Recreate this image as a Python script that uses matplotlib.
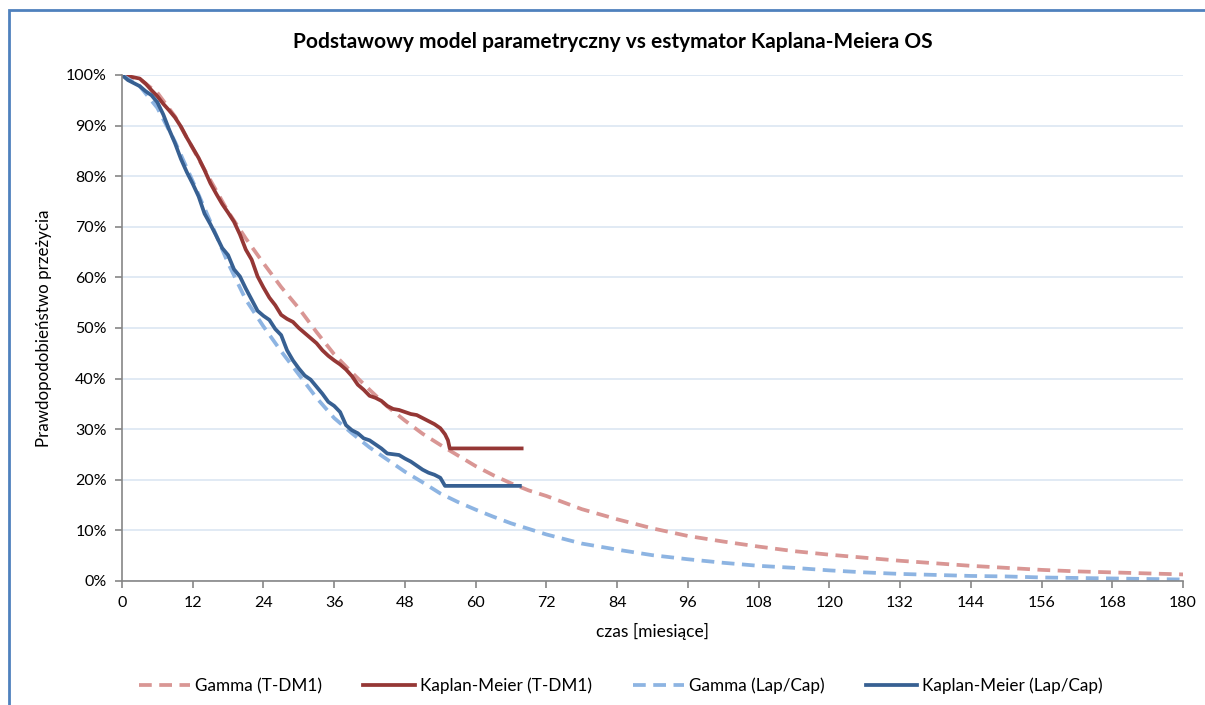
import matplotlib
matplotlib.use('Agg')
import matplotlib.pyplot as plt
from matplotlib.patches import Rectangle
from matplotlib.ticker import FuncFormatter

plt.rcParams['font.family'] = ['Lato', 'DejaVu Sans']

# ---------- dane ----------
# krzywe parametryczne (Gamma), miesiące / przeżycie w %
gamma_t = [0, 3, 6, 9, 12, 15, 18, 21, 24, 27, 30, 33, 36, 39, 42, 45, 48, 51, 54, 57,
           60, 63, 66, 69, 72, 78, 84, 90, 96, 102, 108, 114, 120, 126, 132, 138, 144,
           150, 156, 162, 168, 174, 180]
gamma_tdm1 = [100, 99.2, 96.5, 91.8, 85.5, 79.2, 73.0, 67.7, 62.8, 58.1, 53.9, 49.2, 44.8,
              41.2, 37.8, 34.5, 31.7, 29.1, 26.9, 24.8, 22.7, 20.9, 19.3, 17.9, 16.8, 14.2,
              12.2, 10.4, 8.9, 7.8, 6.8, 5.9, 5.2, 4.6, 4.0, 3.5, 3.0, 2.6, 2.2, 1.9, 1.7,
              1.5, 1.3]
gamma_lapcap = [100, 97.8, 93.5, 86.8, 79.0, 71.0, 62.8, 55.6, 50.3, 45.4, 40.8, 36.2, 32.2,
                29.2, 26.4, 24.0, 21.6, 19.5, 17.3, 15.6, 14.1, 12.7, 11.4, 10.3, 9.2, 7.4,
                6.2, 5.1, 4.3, 3.6, 3.0, 2.6, 2.1, 1.7, 1.4, 1.2, 1.0, 0.9, 0.7, 0.6, 0.5,
                0.4, 0.3]

# estymator Kaplana-Meiera
km_tdm1_t = [0, 3, 4, 5, 6, 7, 8, 9, 10, 11, 12, 13, 14, 15, 16, 17, 18, 19, 20, 21, 22,
             23, 24, 25, 26, 27, 28, 29, 30, 31, 32, 33, 34, 35, 36, 37, 38, 39, 40, 41,
             42, 43, 44, 45, 46, 47, 48, 49, 50, 51, 52, 53, 54, 54.8, 55.3, 55.6, 67.8]
km_tdm1 = [100, 99.3, 98.3, 97.0, 95.8, 94.3, 93.0, 91.6, 89.8, 87.6, 85.6, 83.6, 81.2,
           78.6, 76.5, 74.5, 72.8, 71.0, 68.5, 65.5, 63.5, 60.2, 58.0, 56.0, 54.5, 52.6,
           51.8, 51.2, 50.0, 49.0, 48.0, 47.0, 45.6, 44.5, 43.6, 42.8, 41.8, 40.5, 38.8,
           37.8, 36.6, 36.2, 35.6, 34.6, 34.0, 33.8, 33.4, 33.0, 32.8, 32.2, 31.6, 31.0,
           30.2, 29.0, 27.8, 26.2, 26.2]
km_lapcap_t = [0, 1, 2, 3, 4, 5, 6, 7, 8, 9, 10, 11, 12, 13, 14, 15, 16, 17, 18, 19, 20,
               21, 22, 23, 24, 25, 26, 27, 28, 29, 30, 31, 32, 33, 34, 35, 36, 37, 38, 39,
               40, 41, 42, 43, 44, 45, 47, 48, 49, 50, 51, 52, 53, 54, 54.8, 67.5]
km_lapcap = [100, 99.0, 98.4, 97.8, 96.8, 96.0, 94.6, 92.2, 89.2, 86.5, 83.4, 80.8, 78.5,
             76.0, 72.6, 70.5, 68.2, 65.8, 64.4, 61.6, 60.2, 57.8, 55.6, 53.4, 52.4, 51.6,
             49.8, 48.6, 45.6, 43.6, 42.0, 40.6, 39.8, 38.4, 37.0, 35.4, 34.6, 33.4, 30.8,
             29.8, 29.2, 28.2, 27.8, 27.0, 26.2, 25.2, 24.9, 24.2, 23.6, 22.8, 22.0, 21.4,
             21.0, 20.4, 18.8, 18.8]

x_ticks = list(range(0, 181, 12))
y_ticks = list(range(0, 101, 10))

C_PINK = '#d99694'
C_RED = '#953735'
C_LBLUE = '#8db4e2'
C_BLUE = '#376092'

# ---------- rysunek ----------
fig = plt.figure(figsize=(12.05, 7.05), dpi=100)
ax = fig.add_axes([122 / 1205, 1 - 581 / 705, 1061 / 1205, 506 / 705])

lw = 2.7
dash = (3.4, 2.0)
ax.plot(gamma_t, gamma_tdm1, color=C_PINK, lw=lw, dashes=dash, label='Gamma (T-DM1)',
        dash_capstyle='butt')
ax.plot(km_tdm1_t, km_tdm1, color=C_RED, lw=lw, label='Kaplan-Meier (T-DM1)')
ax.plot(gamma_t, gamma_lapcap, color=C_LBLUE, lw=lw, dashes=dash, label='Gamma (Lap/Cap)',
        dash_capstyle='butt')
ax.plot(km_lapcap_t, km_lapcap, color=C_BLUE, lw=lw, label='Kaplan-Meier (Lap/Cap)')

ax.set_xlim(0, 180)
ax.set_ylim(0, 100)
ax.set_xticks(x_ticks)
ax.set_yticks(y_ticks)
ax.yaxis.set_major_formatter(FuncFormatter(lambda v, p: f'{v:.0f}%'))
ax.grid(axis='y', color='#dce6f2', lw=1.2)
ax.set_axisbelow(True)
for s in ('top', 'right'):
    ax.spines[s].set_visible(False)
for s in ('left', 'bottom'):
    ax.spines[s].set_color('#868686')
    ax.spines[s].set_linewidth(1.2)
ax.tick_params(direction='out', length=5, width=1.2, color='#868686',
               labelsize=11.5, labelcolor='black', pad=6)

ax.set_xlabel('czas [miesiące]', fontsize=12.5, labelpad=9)
ax.set_ylabel('Prawdopodobieństwo przeżycia', fontsize=12.2, labelpad=10)
fig.text(613 / 1205, 1 - 42 / 705, 'Podstawowy model parametryczny vs estymator Kaplana-Meiera OS',
         ha='center', va='center', fontsize=15, fontweight='bold')

fig.legend(loc='center', bbox_to_anchor=(621 / 1205, 1 - 686 / 705), ncol=4,
           frameon=False, fontsize=12.3, handlelength=3.0, columnspacing=2.4,
           handletextpad=0.3)

# ramka obszaru wykresu
fig.add_artist(Rectangle((9 / 1205, -0.2), 1.2, 1.2 - 10 / 705,
                         transform=fig.transFigure, fill=False,
                         edgecolor='#4f81bd', lw=2, clip_on=False))

plt.savefig('out.png', dpi=100)
